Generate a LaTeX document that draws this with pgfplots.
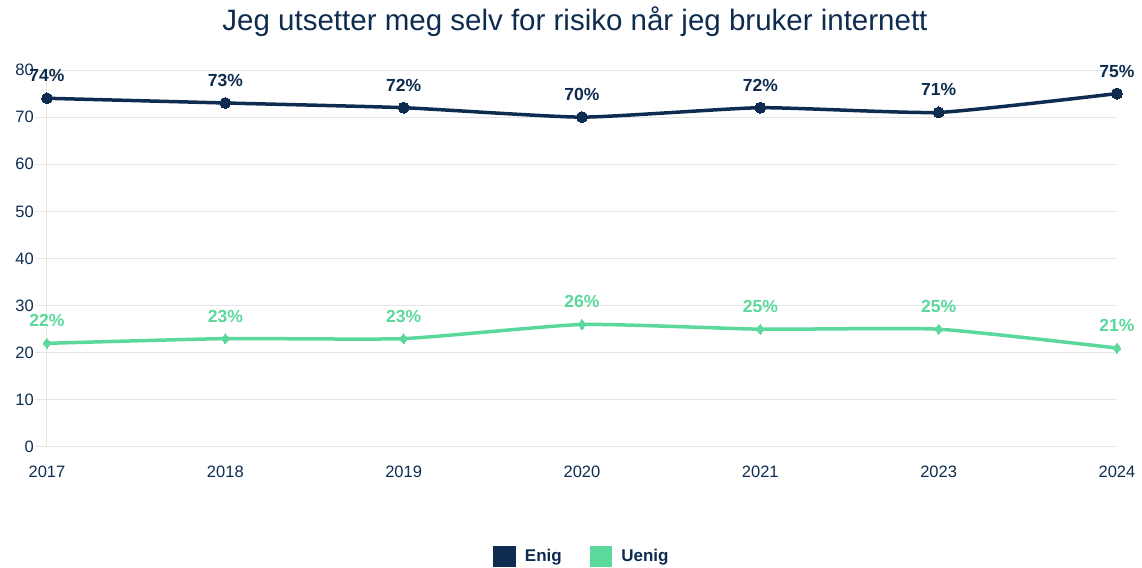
\documentclass[border=0pt]{standalone}
\usepackage{pgfplots}
\pgfplotsset{compat=1.18}
\usepackage{fontspec}
\setmainfont{Liberation Sans}
\definecolor{navy}{HTML}{0E2C50}
\definecolor{mint}{HTML}{5BD89C}
\definecolor{gridc}{HTML}{E6E6E6}
\begin{document}
\begin{tikzpicture}[x=1pt,y=1pt]
\useasboundingbox (0,0) rectangle (1142,567);
\node[text=navy, font=\fontsize{29.5}{34}\selectfont] at (575,545) {Jeg utsetter meg selv for risiko når jeg bruker internett};
\begin{axis}[
  at={(47pt,120pt)}, anchor=south west, scale only axis,
  width=1070pt, height=377pt,
  xmin=0, xmax=6, ymin=0, ymax=80,
  xtick={0,...,6}, xticklabels={2017,2018,2019,2020,2021,2023,2024},
  ytick={0,10,...,80},
  axis lines*=left,
  axis line style={gridc, line width=1pt},
  ymajorgrids, grid style={gridc, line width=1pt},
  tick align=outside, major tick length=12pt,
  ytick style={gridc, line width=1pt},
  xtick style={draw=none},
  ticklabel style={font=\fontsize{16.5}{19}\selectfont, text=navy},
  /pgf/number format/assume math mode=true,
  yticklabel style={anchor=east, inner sep=1pt},
  xticklabel style={anchor=north, yshift=-3pt},
  clip=false,
  legend style={at={(0.5,-0.29)}, anchor=center, legend columns=2, draw=none,
    font=\fontsize{17}{20}\selectfont\bfseries, text=navy,
    /tikz/every even column/.append style={column sep=26pt}},
  nodes near coords={\pgfmathprintnumber{\pgfplotspointmeta}\%},
  point meta=explicit symbolic,
]
\addplot[navy, line width=3.5pt, smooth, tension=0.3, mark=*, mark size=5.5pt,
  mark options={fill=navy, line width=0pt},
  nodes near coords style={font=\fontsize{17.5}{20}\selectfont\bfseries, text=navy, yshift=13pt},
  legend image code/.code={\fill[navy] (0pt,-9pt) rectangle (19pt,9pt); \path (26pt,0pt);}]
  table[meta index=2] {
x y m
0 74 74
1 73 73
2 72 72
3 70 70
4 72 72
5 71 71
6 75 75
};
\addlegendentry{Enig}
\addplot[mint, line width=3.5pt, smooth, tension=0.3, mark=diamond*, mark size=5pt,
  mark options={fill=mint, line width=0pt},
  nodes near coords style={font=\fontsize{17.5}{20}\selectfont\bfseries, text=mint, yshift=13pt},
  legend image code/.code={\fill[mint] (0pt,-9pt) rectangle (19pt,9pt); \path (26pt,0pt);}]
  table[meta index=2] {
x y m
0 22 22
1 23 23
2 23 23
3 26 26
4 25 25
5 25 25
6 21 21
};
\addlegendentry{Uenig}
\end{axis}
\end{tikzpicture}
\end{document}
